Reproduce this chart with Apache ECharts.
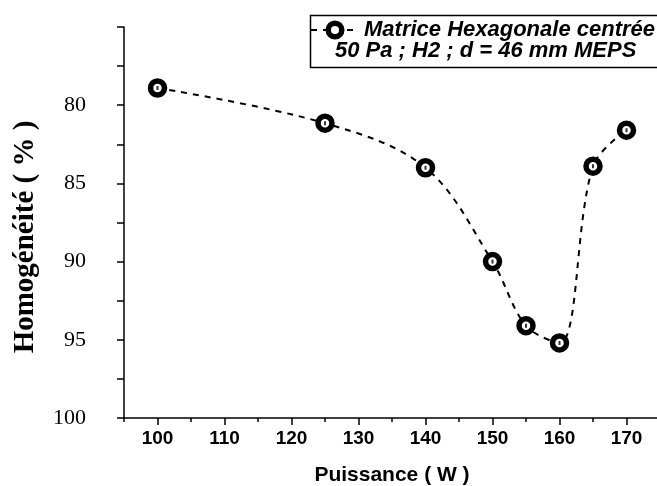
<!DOCTYPE html>
<html>
<head>
<meta charset="utf-8">
<script src="https://cdn.jsdelivr.net/npm/echarts@6/dist/echarts.min.js"></script>
<style>
  html, body { margin: 0; padding: 0; background: #fff; }
  #chart { width: 657px; height: 486px; }
</style>
</head>
<body>
<div id="chart"></div>
<script>
// Homogeneity of the hexagonal-centred matrix versus microwave power
const puissance = [100, 125, 140, 150, 155, 160, 165, 170];
const homogeneite = [78.9, 81.15, 84.0, 90.0, 94.1, 95.2, 83.9, 81.6];
const xMajorTicks = [100, 110, 120, 130, 140, 150, 160, 170];
const xMinorTicks = [95, 105, 115, 125, 135, 145, 155, 165, 175];
const yLabels = [80, 85, 90, 95, 100];

const serieName = 'Matrice Hexagonale centrée';
const conditions = '50 Pa ; H2 ; d = 46 mm MEPS';
const yTitle = 'Homogénéité ( % )';

const points = puissance.map((p, i) => [p, homogeneite[i]]);

const chart = echarts.init(document.getElementById('chart'), null, { renderer: 'canvas' });

const sansFamily = 'Liberation Sans, Arial, sans-serif';
const serifFamily = 'Liberation Serif, Times New Roman, serif';
const sansBold = { fontFamily: sansFamily, fontWeight: 'bold', color: '#000' };

chart.setOption({
  animation: false,
  backgroundColor: '#fff',
  grid: { left: 124, right: -3, top: 27, bottom: 68, containLabel: false, outerBoundsMode: 'none' },
  legend: {
    data: [serieName],
    left: 310,
    top: 19,
    padding: 0,
    itemWidth: 48,
    itemHeight: 17,
    itemStyle: { borderWidth: 5.5, borderColor: '#000', color: '#fff' },
    lineStyle: { width: 2, type: [6, 6], color: '#000' },
    textStyle: Object.assign({ fontStyle: 'italic', fontSize: 22 }, sansBold)
  },
  graphic: [
    {
      type: 'rect',
      shape: { x: 310.5, y: 15.5, width: 360, height: 52 },
      style: { fill: 'none', stroke: '#000', lineWidth: 1.5 },
      z: 10
    },
    {
      type: 'text',
      left: 335,
      top: 40,
      style: { text: conditions, fontStyle: 'italic', fontSize: 22, fontWeight: 'bold', fontFamily: sansFamily, fill: '#000' },
      z: 10
    },
    {
      type: 'text',
      x: 26,
      y: 237,
      rotation: Math.PI / 2,
      style: {
        text: yTitle, fontSize: 29, fontWeight: 'bold', fontFamily: serifFamily, fill: '#000',
        align: 'center', verticalAlign: 'middle'
      },
      z: 10
    }
  ],
  xAxis: [
    {
      type: 'value',
      min: 95,
      max: 175,
      name: 'Puissance ( W )',
      nameLocation: 'middle',
      nameGap: 47,
      nameTextStyle: Object.assign({ fontSize: 21 }, sansBold),
      axisLine: { show: true, onZero: false, lineStyle: { color: '#000', width: 1.5 } },
      axisTick: { show: true, customValues: xMajorTicks, length: 7, lineStyle: { color: '#000', width: 1.5 } },
      axisLabel: Object.assign({ customValues: xMajorTicks, fontSize: 19, margin: 11 }, sansBold),
      splitLine: { show: false }
    },
    {
      type: 'value',
      min: 95,
      max: 175,
      position: 'bottom',
      axisLine: { show: false },
      axisTick: { show: true, customValues: xMinorTicks, length: 4, lineStyle: { color: '#000', width: 1.5 } },
      axisLabel: { show: false },
      splitLine: { show: false }
    }
  ],
  yAxis: {
    type: 'value',
    inverse: true,
    min: 75,
    max: 100,
    interval: 2.5,
    axisLine: { show: true, lineStyle: { color: '#000', width: 1.5 } },
    axisTick: { show: true, length: 7, lineStyle: { color: '#000', width: 1.5 } },
    axisLabel: {
      customValues: yLabels,
      fontFamily: serifFamily,
      fontSize: 22,
      color: '#000',
      margin: 38
    },
    splitLine: { show: false }
  },
  series: [
    {
      name: serieName,
      type: 'line',
      data: points,
      smooth: 0.35,
      symbol: 'circle',
      symbolSize: 14,
      lineStyle: { color: '#000', width: 2, type: [6, 6] },
      itemStyle: { color: '#fff', borderColor: '#000', borderWidth: 5.5 },
      z: 3
    },
    {
      name: 'centre',
      type: 'scatter',
      data: points,
      symbol: 'rect',
      symbolSize: [2, 4],
      itemStyle: { color: '#000' },
      silent: true,
      z: 4
    }
  ]
});
</script>
</body>
</html>
